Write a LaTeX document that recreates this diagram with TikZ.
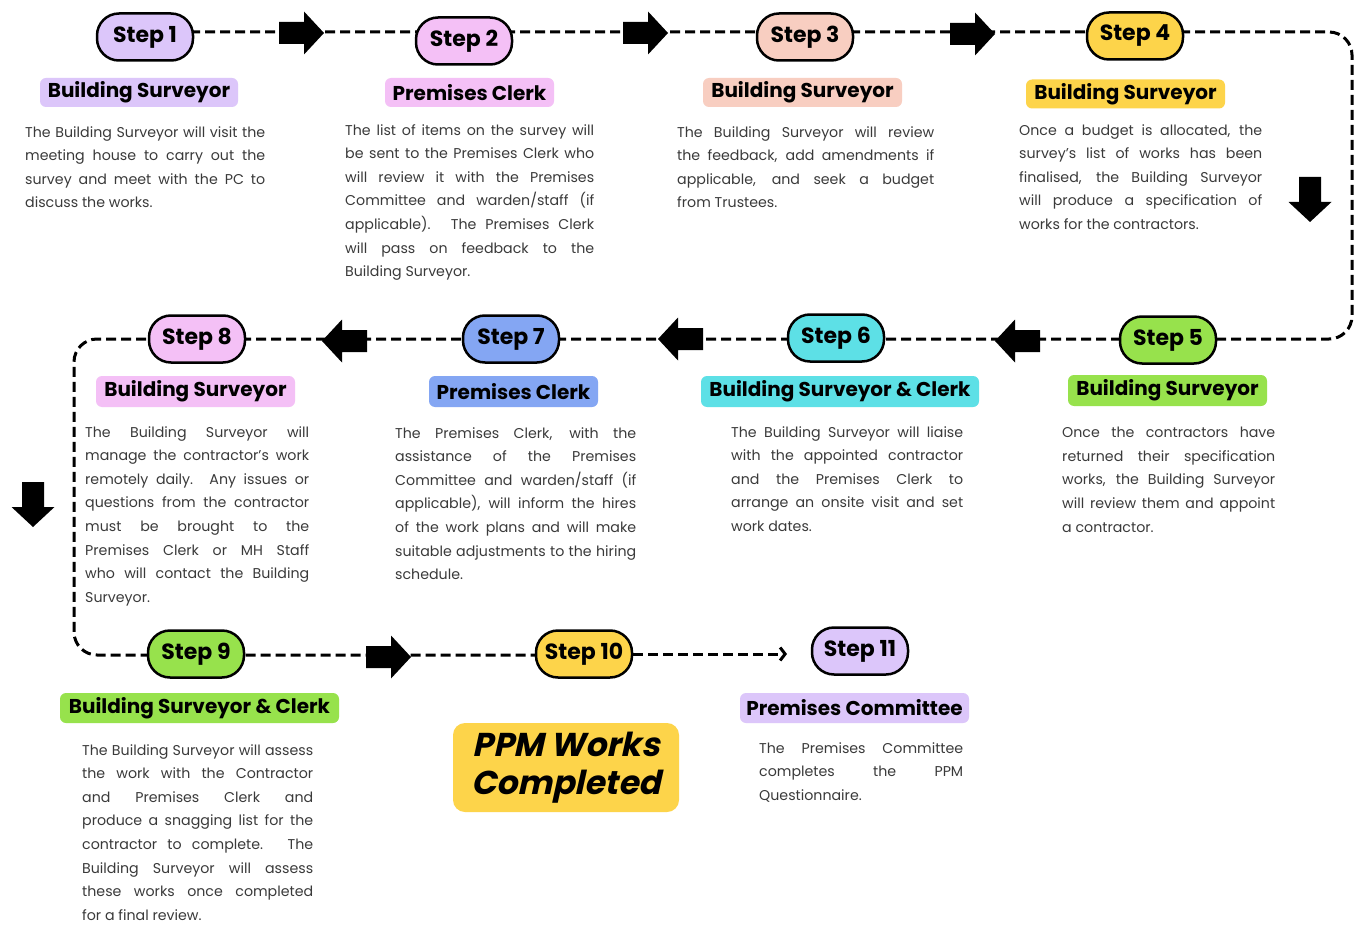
\documentclass[tikz,border=0pt]{standalone}
\usepackage{fontspec}
\setmainfont{Poppins}
\newfontfamily\ppmfont{Poppins}[FakeSlant=0.22]
\usetikzlibrary{arrows.meta,backgrounds}
\hyphenpenalty=10000
\exhyphenpenalty=10000
\tolerance=10000
\pretolerance=-1
\definecolor{cLav}{HTML}{DCC6FA}
\definecolor{cPink}{HTML}{F4C0F6}
\definecolor{cPeach}{HTML}{F8CEC1}
\definecolor{cYel}{HTML}{FDD44A}
\definecolor{cGreen}{HTML}{97E24C}
\definecolor{cCyan}{HTML}{5DE0E6}
\definecolor{cBlue}{HTML}{84A6F3}
\definecolor{cText}{HTML}{3A3A3A}
\tikzset{
  stepnode/.style={draw=black, line width=2.5pt, rounded corners=22pt, minimum width=96pt, minimum height=47pt, inner sep=0pt, font=\fontsize{22}{24}\selectfont\bfseries},
  rolebox/.style={rounded corners=6pt, inner sep=0pt, font=\fontsize{20}{22}\selectfont\bfseries},
  bodytext/.style={anchor=north west, inner sep=0pt, align=justify, text=cText, font=\fontsize{14.2}{23.6}\selectfont},
  flow/.style={line width=3pt, dash pattern=on 10pt off 5pt},
  blockarrow/.pic={\fill[black] (-23,-11) -- (2,-11) -- (2,-21.5) -- (22,0) -- (2,21.5) -- (2,11) -- (-23,11) -- cycle;}
}
\begin{document}
\begin{tikzpicture}[x=1pt,y=-1pt]
\useasboundingbox (0,0) rectangle (1362,925);

% step pills
\node[stepnode, fill=cLav]   (s1)  at (145,37)  {Step 1};
\node[stepnode, fill=cPink]  (s2)  at (464,41)  {Step 2};
\node[stepnode, fill=cPeach] (s3)  at (805,37)  {Step 3};
\node[stepnode, fill=cYel]   (s4)  at (1135,36) {Step 4};
\node[stepnode, fill=cGreen] (s5)  at (1168,340) {Step 5};
\node[stepnode, fill=cCyan]  (s6)  at (836,338) {Step 6};
\node[stepnode, fill=cBlue]  (s7)  at (511,339) {Step 7};
\node[stepnode, fill=cPink]  (s8)  at (197,339) {Step 8};
\node[stepnode, fill=cGreen] (s9)  at (196,654) {Step 9};
\node[stepnode, fill=cYel]   (s10) at (584,654) {Step 10};
\node[stepnode, fill=cLav]   (s11) at (860,651) {Step 11};

% role labels
\node[rolebox, fill=cLav,   minimum width=198pt, minimum height=29pt] (r1)  at (139,92.5)   {Building Surveyor};
\node[rolebox, fill=cPink,  minimum width=169pt, minimum height=29pt] (r2)  at (469.5,92.5) {Premises Clerk};
\node[rolebox, fill=cPeach, minimum width=199pt, minimum height=29pt] (r3)  at (802.5,92.5) {Building Surveyor};
\node[rolebox, fill=cYel,   minimum width=199pt, minimum height=29pt] (r4)  at (1125.5,94)  {Building Surveyor};
\node[rolebox, fill=cGreen, minimum width=199pt, minimum height=31pt] (r5)  at (1167.5,390.5) {Building Surveyor};
\node[rolebox, fill=cCyan,  minimum width=278pt, minimum height=31pt] (r6)  at (840,391.5)  {Building Surveyor \& Clerk};
\node[rolebox, fill=cBlue,  minimum width=169pt, minimum height=31pt] (r7)  at (513.5,391.5) {Premises Clerk};
\node[rolebox, fill=cPink,  minimum width=199pt, minimum height=31pt] (r8)  at (195.5,391.5) {Building Surveyor};
\node[rolebox, fill=cGreen, minimum width=279pt, minimum height=30pt] (r9)  at (199.5,708)  {Building Surveyor \& Clerk};
\node[rolebox, fill=cLav,   minimum width=229pt, minimum height=30pt] (r11) at (854.5,708)  {Premises Committee};

% completed box
\node[fill=cYel, rounded corners=12pt, minimum width=226pt, minimum height=89pt, inner sep=0pt, align=center,
      font=\ppmfont\fontsize{33}{38}\selectfont\bfseries] (ppm) at (566,767.5) {PPM Works\\Completed};

% body texts
\node[bodytext, text width=240pt] (b1) at (25,126) {The Building Surveyor will visit the\linebreak meeting house to carry out the\linebreak survey and meet with the PC to\linebreak discuss the works.};
\node[bodytext, text width=249pt] (b2) at (345,124) {The list of items on the survey will\linebreak be sent to the Premises Clerk who\linebreak will review it with the Premises\linebreak Committee and warden/staff (if\linebreak applicable). The Premises Clerk\linebreak will pass on feedback to the\linebreak Building Surveyor.};
\node[bodytext, text width=257pt] (b3) at (677,126) {The Building Surveyor will review\linebreak the feedback, add amendments if\linebreak applicable, and seek a budget\linebreak from Trustees.};
\node[bodytext, text width=243pt] (b4) at (1019,124) {Once a budget is allocated, the\linebreak survey’s list of works has been\linebreak finalised, the Building Surveyor\linebreak will produce a specification of\linebreak works for the contractors.};
\node[bodytext, text width=213pt] (b5) at (1062,427) {Once the contractors have\linebreak returned their specification\linebreak works, the Building Surveyor\linebreak will review them and appoint\linebreak a contractor.};
\node[bodytext, text width=232pt] (b6) at (731,426) {The Building Surveyor will liaise\linebreak with the appointed contractor\linebreak and the Premises Clerk to\linebreak arrange an onsite visit and set\linebreak work dates.};
\node[bodytext, text width=241pt] (b7) at (395,427) {The Premises Clerk, with the\linebreak assistance of the Premises\linebreak Committee and warden/staff (if\linebreak applicable), will inform the hires\linebreak of the work plans and will make\linebreak suitable adjustments to the hiring\linebreak schedule.};
\node[bodytext, text width=224pt] (b8) at (85,426) {The Building Surveyor will\linebreak manage the contractor’s work\linebreak remotely daily. Any issues or\linebreak questions from the contractor\linebreak must be brought to the\linebreak Premises Clerk or MH Staff\linebreak who will contact the Building\linebreak Surveyor.};
\node[bodytext, text width=231pt] (b9) at (82,744) {The Building Surveyor will assess\linebreak the work with the Contractor\linebreak and Premises Clerk and\linebreak produce a snagging list for the\linebreak contractor to complete. The\linebreak Building Surveyor will assess\linebreak these works once completed\linebreak for a final review.};
\node[bodytext, text width=204pt] (b11) at (759,742) {The Premises Committee\linebreak completes the PPM\linebreak Questionnaire.};

% block arrows
\pic (a1) at (302,33) {blockarrow};
\pic (a2) at (646,33) {blockarrow};
\pic (a3) at (973,34) {blockarrow};
\pic[rotate=-90] (a4) at (1310,200) {blockarrow};
\pic[rotate=180] (a5) at (1017,341) {blockarrow};
\pic[rotate=180] (a6) at (680,339) {blockarrow};
\pic[rotate=180] (a7) at (344,341) {blockarrow};
\pic[rotate=-90] (a8) at (33,505) {blockarrow};
\pic (a9) at (389,657) {blockarrow};

% connector corners
\coordinate (k1) at (1352,32);
\coordinate (k2) at (1352,339);
\coordinate (k3) at (74,339);
\coordinate (k4) at (74,655);
\coordinate (k5) at (787,654);

\begin{scope}[on background layer]
\fill[white] (0,0) rectangle (1362,925);
\draw[flow, rounded corners=23pt] (s1 |- k1) -- (k1) -- (k2) -- (k3) -- (k4) -- (s10 |- k4);
\draw[flow, -{Straight Barb[length=5pt,width=13pt]}] (s10.east) -- (k5);
\end{scope}
\end{tikzpicture}
\end{document}
